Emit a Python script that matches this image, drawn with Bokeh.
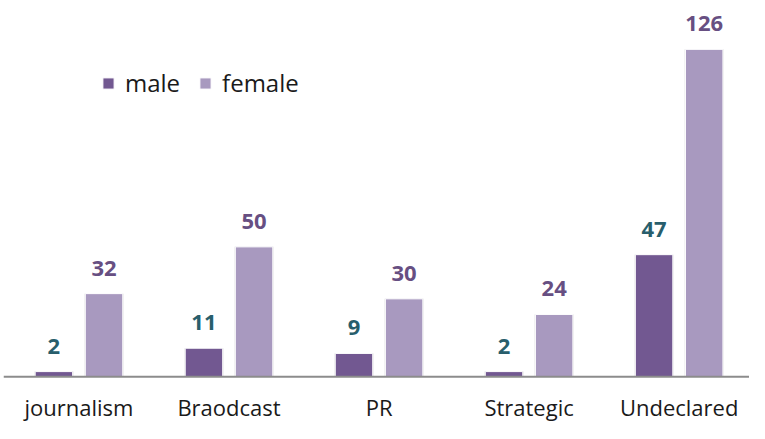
from bokeh.plotting import figure
from bokeh.models import Range1d, ColumnDataSource, LabelSet, Legend, LegendItem, Span
from bokeh.core.properties import value
from bokeh.embed import file_html
from bokeh.resources import INLINE

categories = ["journalism", "Braodcast", "PR", "Strategic", "Undeclared"]
male = [2, 11, 9, 2, 47]
female = [32, 50, 30, 24, 126]

MALE_C = "#725891"
FEMALE_C = "#a899bf"
MALE_LBL = "#285e6c"
FEMALE_LBL = "#674f82"

xs = list(range(len(categories)))
src = ColumnDataSource(dict(
    x=xs,
    zero=[0] * len(xs),
    cat=categories,
    xm=[x - 0.167 for x in xs],
    xf=[x + 0.167 for x in xs],
    male=male,
    female=female,
    ml=[str(v) for v in male],
    fl=[str(v) for v in female],
))

p = figure(width=749, height=423, output_backend="svg", toolbar_location=None,
           x_range=Range1d(-0.503, 4.469), y_range=Range1d(-17.97, 144.8),
           min_border_left=3, min_border_right=0, min_border_top=0, min_border_bottom=0)
p.outline_line_color = None
p.grid.visible = False
p.axis.visible = False
p.background_fill_color = "white"

# subtle shadow
p.vbar(x="xm", top="male", width=0.262, source=src, fill_color="#e4e4e4", line_color=None)
p.vbar(x="xf", top="female", width=0.262, source=src, fill_color="#e4e4e4", line_color=None)

rm = p.vbar(x="xm", top="male", width=0.25, source=src, fill_color=MALE_C, line_color="white", line_width=1)
rf = p.vbar(x="xf", top="female", width=0.25, source=src, fill_color=FEMALE_C, line_color="white", line_width=1)

p.add_layout(Span(location=0, dimension="width", line_color="#8c8c8c", line_width=2))

p.add_layout(LabelSet(x="xm", y="male", text="ml", source=src, text_align="center",
                      text_baseline="bottom", y_offset=18, text_font=value("Open Sans"),
                      text_font_style="bold", text_font_size="22px", text_color=MALE_LBL))
p.add_layout(LabelSet(x="xf", y="female", text="fl", source=src, text_align="center",
                      text_baseline="bottom", y_offset=18, text_font=value("Open Sans"),
                      text_font_style="bold", text_font_size="22px", text_color=FEMALE_LBL))

p.add_layout(LabelSet(x="x", y="zero", text="cat", source=src, text_align="center",
                      text_baseline="alphabetic", y_offset=-39, text_font=value("Open Sans"),
                      text_font_size="22px", text_color="#1a1a1a"))

legend = Legend(items=[LegendItem(label="male", renderers=[rm]),
                       LegendItem(label="female", renderers=[rf])],
                orientation="horizontal", location=(98, 324),
                label_text_font="Open Sans", label_text_font_size="24px",
                label_text_color="#1a1a1a",
                glyph_width=14, glyph_height=14, label_standoff=10, spacing=18,
                padding=0, margin=0, border_line_color=None, background_fill_alpha=0)
p.add_layout(legend, "center")

open("out.html", "w").write(file_html(p, INLINE))
